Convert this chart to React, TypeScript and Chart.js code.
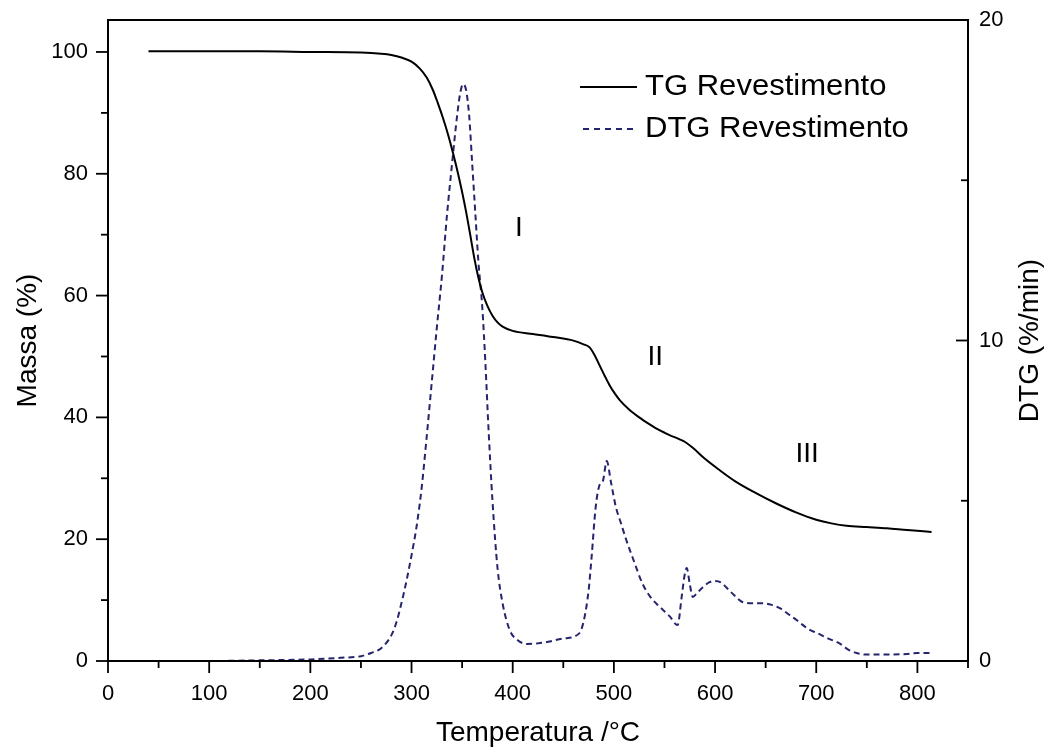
import React, { useEffect, useRef } from 'react';
import { Chart, registerables } from 'chart.js';

Chart.register(...registerables);

// ---- Data ----
const tgTemp = [40, 100, 150, 200, 250, 270, 280, 290, 300, 308, 315, 321, 326, 331, 336, 341, 346, 350, 354, 358, 362, 366, 370, 375, 380, 385, 390, 400, 420, 440, 460, 470, 476, 481, 486, 491, 496, 501, 506, 515, 525, 535, 545, 555, 565, 570, 578, 590, 604, 620, 640, 660, 680, 700, 715, 730, 750, 770, 790, 814];
const tgMass = [100.1, 100.1, 100.1, 100.0, 99.9, 99.7, 99.5, 99.1, 98.4, 97.3, 95.8, 93.8, 91.6, 89.2, 86.5, 83.4, 80.0, 77.0, 73.7, 70.0, 66.2, 63.0, 60.5, 58.3, 56.7, 55.6, 54.9, 54.2, 53.7, 53.2, 52.6, 52.0, 51.5, 50.2, 48.5, 46.8, 45.2, 43.9, 42.8, 41.3, 40.0, 38.9, 37.9, 37.1, 36.4, 36.0, 35.0, 33.2, 31.4, 29.5, 27.6, 25.9, 24.4, 23.2, 22.6, 22.2, 22.0, 21.8, 21.5, 21.2];

const dtgTemp = [40, 100, 150, 200, 230, 250, 260, 270, 280, 285, 290, 295, 300, 305, 310, 315, 320, 325, 330, 335, 340, 345, 348, 351, 354, 357, 360, 363, 366, 370, 373, 376, 380, 385, 390, 397, 405, 414, 425, 435, 450, 466, 471, 475, 478, 482, 486, 489, 493, 497, 502, 507, 512, 520, 528, 536, 545, 555, 563, 567, 570, 572, 575, 578, 583, 588, 594, 600, 606, 611, 619, 627, 637, 647, 656, 664, 673, 683, 692, 701, 712, 723, 732, 740, 750, 770, 790, 800, 814];
const dtgRate = [0.0, 0.0, 0.02, 0.05, 0.1, 0.15, 0.25, 0.4, 0.8, 1.2, 1.8, 2.5, 3.3, 4.2, 5.4, 7.0, 8.7, 10.4, 12.0, 13.9, 15.5, 17.0, 17.7, 18.0, 17.8, 17.0, 15.5, 14.0, 12.5, 11.0, 9.3, 7.3, 5.0, 2.9, 1.8, 0.97, 0.65, 0.53, 0.55, 0.6, 0.7, 0.87, 1.37, 2.2, 3.25, 4.8, 5.5, 5.6, 6.24, 5.6, 4.8, 4.3, 3.8, 3.1, 2.43, 2.0, 1.7, 1.4, 1.12, 2.0, 2.7, 2.9, 2.4, 2.0, 2.15, 2.3, 2.45, 2.5, 2.45, 2.3, 2.05, 1.84, 1.8, 1.8, 1.75, 1.65, 1.45, 1.22, 1.0, 0.87, 0.7, 0.55, 0.35, 0.25, 0.2, 0.2, 0.22, 0.25, 0.25];

const xMajorTicks = [0, 100, 200, 300, 400, 500, 600, 700, 800];
const xMinorTicks = [50, 150, 250, 350, 450, 550, 650, 750, 850];
const massMajorTicks = [0, 20, 40, 60, 80, 100];
const massMinorTicks = [10, 30, 50, 70, 90];
const dtgMajorTicks = [0, 10, 20];
const dtgMinorTicks = [5, 15];

const stageLabels = ['I', 'II', 'III'];
const stageTemp = [406, 541, 691];
const stageMass = [71.1, 49.9, 33.9];

const seriesNames = ['TG Revestimento', 'DTG Revestimento'];
const xTitle = 'Temperatura /°C';
const yTitle = 'Massa (%)';
const y2Title = 'DTG (%/min)';

const FONT = "'Liberation Sans', Arial, sans-serif";
const DTG_COLOR = '#25256e';

const decorPlugin = {
  id: 'decor',
  afterDraw(chart: any) {
    const ctx = chart.ctx;
    const { left, right, top, bottom } = chart.chartArea;
    const xs = chart.scales.x;
    const ys = chart.scales.y;
    const y2 = chart.scales.y2;
    ctx.save();
    ctx.strokeStyle = '#000';
    ctx.lineWidth = 2;
    ctx.strokeRect(left, top, right - left, bottom - top);

    const seg = (x1: number, y1: number, x2: number, y2v: number) => {
      ctx.beginPath();
      ctx.moveTo(x1, y1);
      ctx.lineTo(x2, y2v);
      ctx.stroke();
    };
    ctx.lineWidth = 1.8;
    xMajorTicks.forEach((v) => { const p = xs.getPixelForValue(v); seg(p, bottom, p, bottom + 12); });
    xMinorTicks.forEach((v) => { const p = xs.getPixelForValue(v); seg(p, bottom, p, bottom + 7); });
    massMajorTicks.forEach((v) => { const p = ys.getPixelForValue(v); seg(left - 12, p, left, p); });
    massMinorTicks.forEach((v) => { const p = ys.getPixelForValue(v); seg(left - 7, p, left, p); });
    dtgMajorTicks.forEach((v) => { const p = y2.getPixelForValue(v); seg(right - 12, p, right, p); });
    dtgMinorTicks.forEach((v) => { const p = y2.getPixelForValue(v); seg(right - 7, p, right, p); });

    // titles
    ctx.fillStyle = '#000';
    ctx.font = `28px ${FONT}`;
    ctx.textAlign = 'center';
    ctx.textBaseline = 'middle';
    ctx.fillText(xTitle, (left + right) / 2, 733);
    ctx.save();
    ctx.translate(28, (top + bottom) / 2);
    ctx.rotate(-Math.PI / 2);
    ctx.fillText(yTitle, 0, 0);
    ctx.restore();
    ctx.save();
    ctx.translate(1030, (top + bottom) / 2);
    ctx.rotate(-Math.PI / 2);
    ctx.fillText(y2Title, 0, 0);
    ctx.restore();

    // stage annotations
    ctx.font = `28px ${FONT}`;
    stageLabels.forEach((s, i) => {
      ctx.fillText(s, xs.getPixelForValue(stageTemp[i]), ys.getPixelForValue(stageMass[i]));
    });

    // legend
    const lx1 = left + 472;
    const lx2 = left + 529;
    const ly1 = top + 67;
    const ly2 = top + 109;
    ctx.lineWidth = 1.8;
    ctx.strokeStyle = '#000';
    seg(lx1, ly1, lx2, ly1);
    ctx.strokeStyle = DTG_COLOR;
    ctx.setLineDash([6, 5]);
    seg(lx1 + 3, ly2, lx2, ly2);
    ctx.setLineDash([]);
    ctx.font = `29px ${FONT}`;
    ctx.textAlign = 'left';
    ctx.save();
    ctx.translate(lx2 + 8, 0);
    ctx.scale(1.07, 1);
    ctx.fillText(seriesNames[0], 0, ly1);
    ctx.fillText(seriesNames[1], 0, ly2);
    ctx.restore();
    ctx.restore();
  },
};

const noPadV = (s: any) => { s.paddingTop = 0; s.paddingBottom = 0; };

export default function App() {
  const ref = useRef<HTMLCanvasElement | null>(null);
  useEffect(() => {
    if (!ref.current) return;
    const chart = new Chart(ref.current, {
      type: 'line',
      data: {
        datasets: [
          {
            label: seriesNames[0],
            data: tgTemp.map((t, i) => ({ x: t, y: tgMass[i] })),
            borderColor: '#000',
            borderWidth: 2,
            pointRadius: 0,
            cubicInterpolationMode: 'monotone',
            yAxisID: 'y',
          },
          {
            label: seriesNames[1],
            data: dtgTemp.map((t, i) => ({ x: t, y: dtgRate[i] })),
            borderColor: DTG_COLOR,
            borderWidth: 2,
            borderDash: [6, 4],
            pointRadius: 0,
            cubicInterpolationMode: 'monotone',
            yAxisID: 'y2',
          },
        ],
      },
      options: {
        responsive: false,
        animation: false,
        layout: { padding: { top: 20, left: 0, right: 0, bottom: 0 } },
        plugins: { legend: { display: false }, tooltip: { enabled: false } },
        scales: {
          x: {
            type: 'linear',
            position: 'bottom',
            min: 0,
            max: 850,
            afterFit: (s: any) => { s.height = 94; s.paddingLeft = 0; s.paddingRight = 0; },
            ticks: { stepSize: 100, includeBounds: false, autoSkip: false, maxRotation: 0, padding: 8, color: '#000', font: { family: FONT, size: 22 } },
            grid: { display: false, drawTicks: true, tickLength: 12 },
            border: { display: false },
          },
          y: {
            type: 'linear',
            position: 'left',
            min: 0,
            max: 105.25,
            afterFit: (s: any) => { s.width = 108; noPadV(s); },
            ticks: { stepSize: 20, includeBounds: false, padding: 9, color: '#000', font: { family: FONT, size: 22 } },
            grid: { display: false, drawTicks: true, tickLength: 11 },
            border: { display: false },
          },
          y2: {
            type: 'linear',
            position: 'right',
            min: 0,
            max: 20,
            afterFit: (s: any) => { s.width = 85; noPadV(s); },
            ticks: { stepSize: 10, includeBounds: false, padding: 11, color: '#000', font: { family: FONT, size: 22 } },
            grid: { display: false, drawTicks: false },
            border: { display: false },
          },
        },
      },
      plugins: [decorPlugin],
    } as any);
    return () => chart.destroy();
  }, []);
  return (
    <div style={{ position: 'absolute', left: 0, top: 0, width: 1053, height: 755, background: '#fff' }}>
      <canvas ref={ref} width={1053} height={755} style={{ display: 'block' }} />
    </div>
  );
}
